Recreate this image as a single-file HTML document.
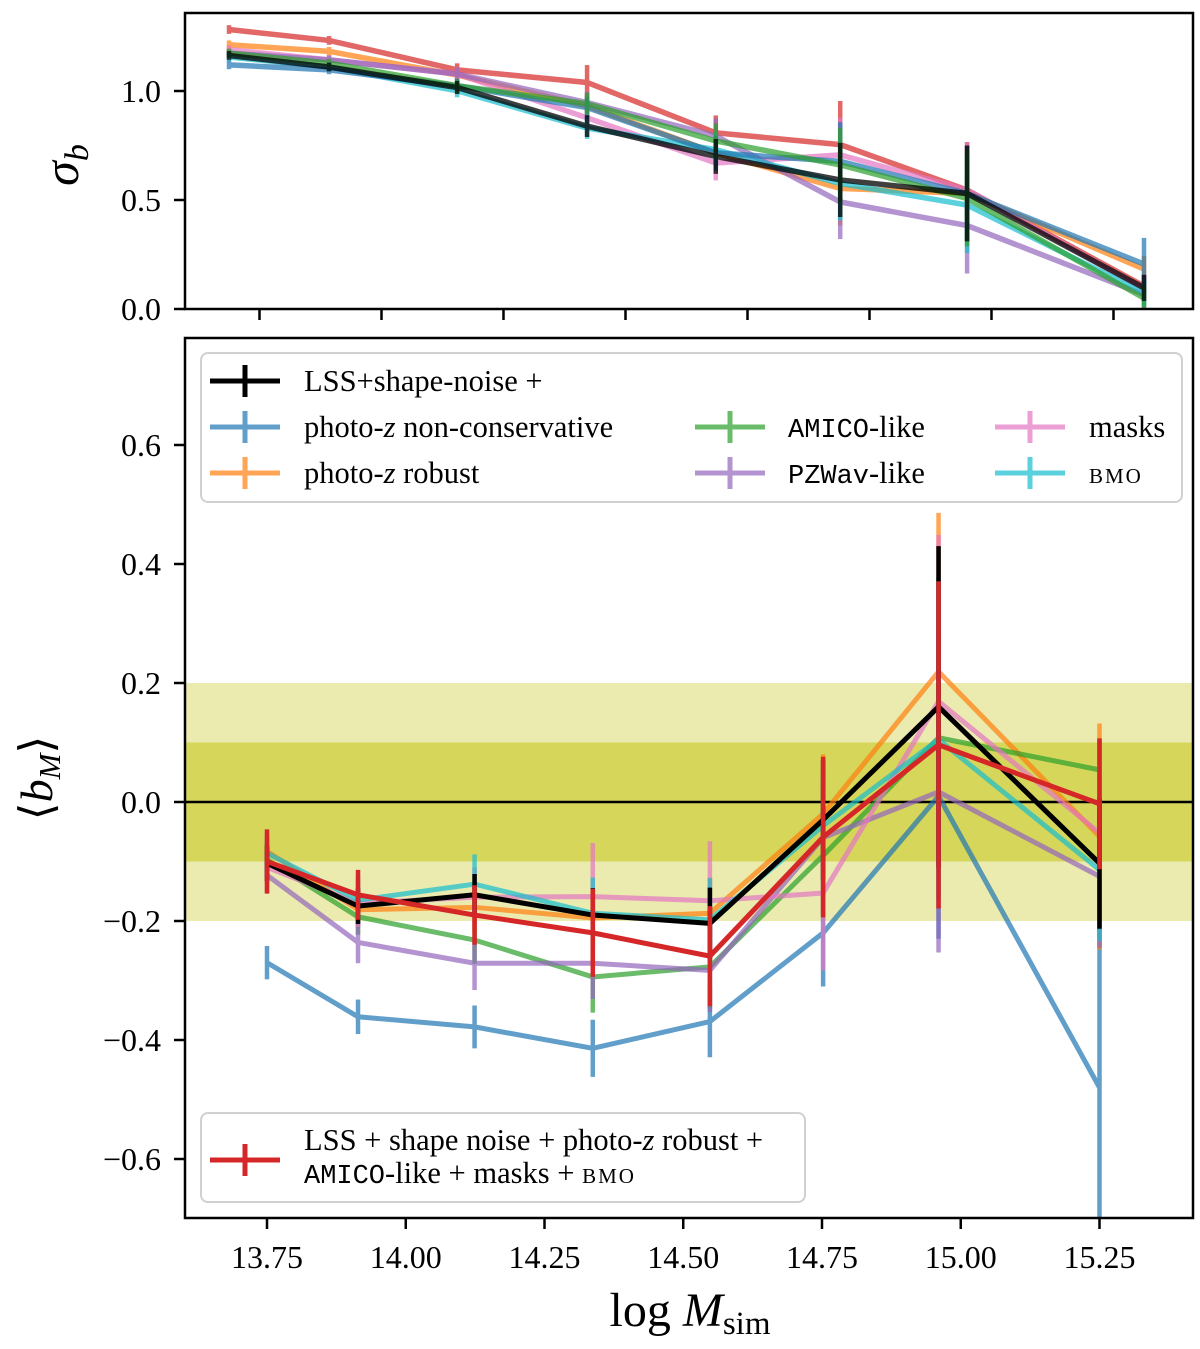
<!DOCTYPE html>
<html><head><meta charset="utf-8"><style>
html,body{margin:0;padding:0;background:#fff}
svg text{font-family:"Liberation Serif",serif;fill:#000}
.mono{font-family:"Liberation Mono",monospace}
</style></head><body>
<svg id="chart" width="1200" height="1344" viewBox="0 0 1200 1344" xmlns="http://www.w3.org/2000/svg">
<g id="topPanel"></g>
<g id="botPanel"></g>
</svg>
<script>
const massBins = [13.75, 13.914, 14.124, 14.337, 14.548, 14.752, 14.96, 15.25];
const seriesNames = ["photo-z non-conservative","photo-z robust","AMICO-like","PZWav-like","masks","BMO","LSS+shape-noise","combined"];
const seriesColors = ["#1f77b4","#ff7f0e","#2ca02c","#9467bd","#e377c2","#17becf","#000000","#d62728"];
// top panel sigma_b
const sigBlue   = [1.120,1.097,1.024,0.924,0.716,0.677,0.530,0.206];
const sigOrange = [1.212,1.182,1.073,0.931,0.716,0.553,0.530,0.183];
const sigGreen  = [1.174,1.128,1.024,0.942,0.771,0.661,0.507,0.050];
const sigPurple = [1.174,1.143,1.078,0.947,0.794,0.491,0.383,0.066];
const sigPink   = [1.189,1.143,1.078,0.877,0.670,0.707,0.546,0.092];
const sigCyan   = [1.156,1.110,1.001,0.830,0.731,0.576,0.477,0.074];
const sigBlack  = [1.163,1.110,1.016,0.839,0.700,0.592,0.530,0.097];
const sigRed    = [1.282,1.232,1.097,1.039,0.808,0.754,0.546,0.105];
const sigErr    = [0.02,0.02,0.03,0.05,0.08,0.17,0.22,0.06];
const sigErrRed = [0.02,0.02,0.03,0.08,0.08,0.2,0.22,0.05];
const sigErrBlue= [0.02,0.02,0.03,0.05,0.08,0.18,0.22,0.12];
// bottom panel <b_M>
const bBlue   = [-0.270,-0.361,-0.378,-0.414,-0.369,-0.220,0.010,-0.480];
const bOrange = [-0.083,-0.181,-0.177,-0.195,-0.187,-0.020,0.219,-0.058];
const bGreen  = [-0.097,-0.193,-0.232,-0.294,-0.277,-0.090,0.108,0.054];
const bPurple = [-0.123,-0.236,-0.271,-0.271,-0.283,-0.060,0.017,-0.125];
const bPink   = [-0.110,-0.170,-0.160,-0.159,-0.166,-0.153,0.169,-0.052];
const bCyan   = [-0.086,-0.165,-0.138,-0.187,-0.198,-0.040,0.105,-0.114];
const bBlack  = [-0.103,-0.175,-0.156,-0.190,-0.204,-0.030,0.160,-0.103];
const bRed    = [-0.100,-0.156,-0.190,-0.220,-0.259,-0.059,0.096,-0.003];
const eBlue   = [0.028,0.029,0.036,0.048,0.06,0.09,0.24,0.30];
const eOrange = [0.03,0.03,0.04,0.05,0.06,0.1,0.267,0.19];
const eGreen  = [0.03,0.03,0.04,0.06,0.07,0.1,0.27,0.05];
const ePurple = [0.03,0.035,0.045,0.06,0.07,0.1,0.27,0.12];
const ePink   = [0.03,0.04,0.05,0.09,0.1,0.13,0.28,0.15];
const eCyan   = [0.03,0.04,0.05,0.06,0.07,0.1,0.27,0.12];
const eBlack  = [0.03,0.03,0.035,0.045,0.06,0.1,0.27,0.11];
const eRed    = [0.054,0.042,0.05,0.074,0.084,0.135,0.275,0.11];
const botTicksX = [13.75,14.0,14.25,14.5,14.75,15.0,15.25];
const botTicksY = [0.6,0.4,0.2,0.0,-0.2,-0.4,-0.6];
const topTicksX = [13.8,14.0,14.2,14.4,14.6,14.8,15.0,15.2];
const topTicksY = [1.0,0.5,0.0];

const NS="http://www.w3.org/2000/svg";
function mk(parent,tag,attrs){const e=document.createElementNS(NS,tag);for(const k in attrs)e.setAttribute(k,attrs[k]);parent.appendChild(e);return e;}
const TL=185,TR=1193,TT=13,TB=309;
const txS=v=>229+(v-13.75)*610;
const tyS=v=>309-v*218;
const BL=185,BR=1193,BT=338,BB=1218;
const bxS=v=>267+(v-13.75)*555;
const byS=v=>802-v*595;

const topG=document.getElementById('topPanel');
const botG=document.getElementById('botPanel');

const band2=mk(botG,'rect',{x:BL,y:byS(0.2),width:BR-BL,height:byS(-0.2)-byS(0.2),fill:'#ebebb0'});


const band1=mk(botG,'rect',{x:BL,y:byS(0.1),width:BR-BL,height:byS(-0.1)-byS(0.1),fill:'#d6d65b'});


const zl=mk(botG,'line',{x1:BL,x2:BR,y1:byS(0),y2:byS(0),stroke:'#000','stroke-width':2.5});



function drawSeries(g,xs,ys,es,xS,yS,color,alpha,lw,name){
  const s=mk(g,'g',{opacity:alpha});
  
  
  let d='';
  ys.forEach((v,i)=>{d+=(i?'L':'M')+xS(xs[i])+','+yS(v);});
  mk(s,'path',{d:d,fill:'none',stroke:color,'stroke-width':lw,'stroke-linejoin':'miter'});
  ys.forEach((v,i)=>{
    const eb=mk(s,'line',{x1:xS(xs[i]),x2:xS(xs[i]),y1:yS(v+es[i]),y2:yS(v-es[i]),stroke:color,'stroke-width':4.5});
    
    
  });
}
const defs=mk(document.getElementById('chart'),'defs',{});
const cp=mk(defs,'clipPath',{id:'cb'});mk(cp,'rect',{x:BL,y:BT,width:BR-BL,height:BB-BT});
const cpt=mk(defs,'clipPath',{id:'ct'});mk(cpt,'rect',{x:TL,y:TT,width:TR-TL,height:TB-TT});
const bg=mk(botG,'g',{'clip-path':'url(#cb)'});
const tg=mk(topG,'g',{'clip-path':'url(#ct)'});

const topData=[sigBlue,sigOrange,sigGreen,sigPurple,sigPink,sigCyan,sigBlack,sigRed];
const topErr=[sigErrBlue,sigErr,sigErr,sigErr,sigErr,sigErr,sigErr,sigErrRed];
const order=[7,1,4,3,5,0,2,6];
order.forEach(i=>drawSeries(tg,massBins,topData[i],topErr[i],txS,tyS,seriesColors[i],i===6?0.75:0.7,5.5,'sigma-'+seriesNames[i].replace(/[^a-z]+/gi,'-').toLowerCase()));

const botData=[bBlue,bOrange,bGreen,bPurple,bPink,bCyan,bBlack,bRed];
const botErr=[eBlue,eOrange,eGreen,ePurple,ePink,eCyan,eBlack,eRed];
[0,1,2,3,4,5,6,7].forEach(i=>drawSeries(bg,massBins,botData[i],botErr[i],bxS,byS,seriesColors[i],i>=6?1:0.7,5,'bias-'+seriesNames[i].replace(/[^a-z]+/gi,'-').toLowerCase()));

const tf=mk(topG,'rect',{x:TL,y:TT,width:TR-TL,height:TB-TT,fill:'none',stroke:'#000','stroke-width':2.5});


const bf=mk(botG,'rect',{x:BL,y:BT,width:BR-BL,height:BB-BT,fill:'none',stroke:'#000','stroke-width':2.5});



topTicksX.forEach(v=>{const t=mk(topG,'line',{x1:txS(v),x2:txS(v),y1:TB,y2:TB+11,stroke:'#000','stroke-width':2.5});
  
  });
topTicksY.forEach(v=>{mk(topG,'line',{x1:TL-11,x2:TL,y1:tyS(v),y2:tyS(v),stroke:'#000','stroke-width':2.5});
  const t=mk(topG,'text',{x:TL-24,y:tyS(v)+11,'font-size':32,'text-anchor':'end'});t.textContent=v.toFixed(1);
  
  });
botTicksX.forEach(v=>{mk(botG,'line',{x1:bxS(v),x2:bxS(v),y1:BB,y2:BB+11,stroke:'#000','stroke-width':2.5});
  const t=mk(botG,'text',{x:bxS(v),y:BB+50,'font-size':32,'text-anchor':'middle'});t.textContent=v.toFixed(2);
  
  });
botTicksY.forEach(v=>{mk(botG,'line',{x1:BL-11,x2:BL,y1:byS(v),y2:byS(v),stroke:'#000','stroke-width':2.5});
  const t=mk(botG,'text',{x:BL-24,y:byS(v)+11,'font-size':32,'text-anchor':'end'});t.textContent=(v<0?'\u2212':'')+Math.abs(v).toFixed(1);
  
  });
</script>
<svg style="position:absolute;left:0;top:0" width="1200" height="1344" xmlns="http://www.w3.org/2000/svg">
<text x="78" y="165" font-size="50" font-style="italic" text-anchor="middle" transform="rotate(-90 78 165)">σ<tspan font-size="34" dy="10">b</tspan></text>
<text x="52" y="778" font-size="46" text-anchor="middle" transform="rotate(-90 52 778)">⟨<tspan font-style="italic">b</tspan><tspan font-style="italic" font-size="31" dy="8">M</tspan><tspan dy="-8">⟩</tspan></text>
<text x="690" y="1326" font-size="48" text-anchor="middle">log <tspan font-style="italic">M</tspan><tspan font-size="33" dy="8">sim</tspan></text>
<g>
<rect x="201" y="353" width="981" height="149" rx="7" fill="#fff" fill-opacity="0.85" stroke="#d0d0d0" stroke-width="2"/>
<g><line x1="210" x2="280" y1="381" y2="381" stroke="#000" stroke-width="5"/><line x1="245" x2="245" y1="365" y2="397" stroke="#000" stroke-width="5"/><text x="304" y="391" font-size="30.5">LSS+shape-noise +</text></g>
<g opacity="0.7"><line x1="210" x2="280" y1="427" y2="427" stroke="#1f77b4" stroke-width="5"/><line x1="245" x2="245" y1="411" y2="443" stroke="#1f77b4" stroke-width="5"/></g>
<text x="304" y="437" font-size="30.5">photo-<tspan font-style="italic">z</tspan> non-conservative</text>
<g opacity="0.7"><line x1="210" x2="280" y1="473" y2="473" stroke="#ff7f0e" stroke-width="5"/><line x1="245" x2="245" y1="457" y2="489" stroke="#ff7f0e" stroke-width="5"/></g>
<text x="304" y="483" font-size="30.5">photo-<tspan font-style="italic">z</tspan> robust</text>
<g opacity="0.7"><line x1="695" x2="765" y1="427" y2="427" stroke="#2ca02c" stroke-width="5"/><line x1="730" x2="730" y1="411" y2="443" stroke="#2ca02c" stroke-width="5"/></g>
<text x="788" y="437" font-size="30.5"><tspan class="mono" font-size="27">AMICO</tspan>-like</text>
<g opacity="0.7"><line x1="695" x2="765" y1="473" y2="473" stroke="#9467bd" stroke-width="5"/><line x1="730" x2="730" y1="457" y2="489" stroke="#9467bd" stroke-width="5"/></g>
<text x="788" y="483" font-size="30.5"><tspan class="mono" font-size="27">PZWav</tspan>-like</text>
<g opacity="0.7"><line x1="995" x2="1065" y1="427" y2="427" stroke="#e377c2" stroke-width="5"/><line x1="1030" x2="1030" y1="411" y2="443" stroke="#e377c2" stroke-width="5"/></g>
<text x="1089" y="437" font-size="30.5">masks</text>
<g opacity="0.7"><line x1="995" x2="1065" y1="473" y2="473" stroke="#17becf" stroke-width="5"/><line x1="1030" x2="1030" y1="457" y2="489" stroke="#17becf" stroke-width="5"/></g>
<text x="1089" y="483" font-size="30.5" style="font-variant:small-caps;letter-spacing:2px">bmo</text>
</g>
<g>
<rect x="201" y="1113" width="604" height="89" rx="7" fill="#fff" fill-opacity="0.85" stroke="#d0d0d0" stroke-width="2"/>
<line x1="210" x2="280" y1="1160" y2="1160" stroke="#d62728" stroke-width="5"/><line x1="245" x2="245" y1="1144" y2="1176" stroke="#d62728" stroke-width="5"/>
<text x="304" y="1150" font-size="30.5">LSS + shape noise + photo-<tspan font-style="italic">z</tspan> robust +</text>
<text x="304" y="1183" font-size="30.5"><tspan class="mono" font-size="27">AMICO</tspan>-like + masks + <tspan style="font-variant:small-caps;letter-spacing:2px">bmo</tspan></text>
</g>
</svg>
</body></html>
